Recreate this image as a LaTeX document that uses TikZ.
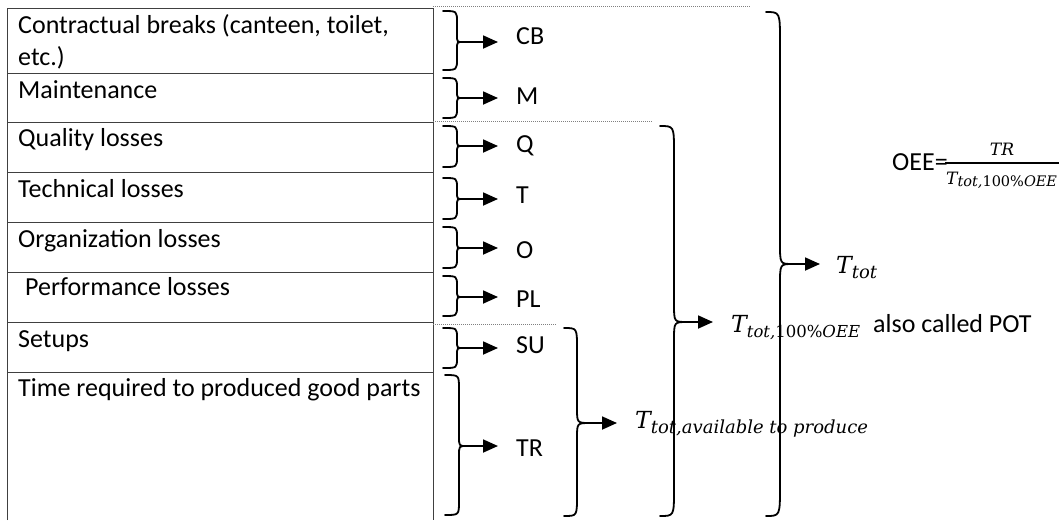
\documentclass[tikz,border=0pt]{standalone}
\usepackage{fontspec}
\setmainfont{Carlito}
\newfontfamily\mfont{DejaVu Serif}
\usetikzlibrary{arrows.meta}
% right brace: xend xspine xtip ytop ymid ybot cEnd cMid tipname
\newcommand\rbrc[9]{%
  \draw[brc] (#1,#4) .. controls (#2,#4) .. (#2,{#4+#7}) -- (#2,{#5-#8})
    .. controls (#2,#5) .. (#3,#5) .. controls (#2,#5) .. (#2,{#5+#8})
    -- (#2,{#6-#7}) .. controls (#2,#6) .. (#1,#6);
  \coordinate (#9) at (#3,#5);}
\newcommand\Tlab[2][18]{{\fontsize{23.5}{26}\selectfont\mfont\itshape T}\raisebox{-5pt}{\fontsize{#1}{20}\selectfont\mfont #2}}
\begin{document}
\begin{tikzpicture}[x=1pt,y=-1pt,
  tbl/.style={draw=black!75,line width=1pt},
  dots/.style={draw=black!50,line width=1pt,dash pattern=on 1pt off 1pt},
  brc/.style={draw=black,line width=1.8pt,line cap=round},
  arr/.style={draw=black,line width=1.8pt,-{Triangle[length=15pt,width=13pt]},shorten >=18pt},
  txt/.style={anchor=base west,inner sep=0pt,font=\fontsize{26}{30}\selectfont},
  lbl/.style={anchor=base west,inner xsep=0pt,inner ysep=0pt,font=\fontsize{26}{30}\selectfont},
  mlbl/.style={anchor=base west,inner xsep=0pt,inner ysep=0pt}]
\useasboundingbox (0,0) rectangle (1059,520);
% table
\draw[tbl] (7,520) -- (7,8) -- (433,8) -- (433,520);
\foreach \yy in {73,122,172,222,272,322,372} \draw[tbl] (7,\yy) -- (433,\yy);
\node[txt] (r1a) at (18,33) {Contractual breaks (canteen, toilet,};
\node[txt] (r1b) at (18,65) {etc.)};
\node[txt] (r2) at (18,98) {Maintenance};
\node[txt] (r3) at (18,146) {Quality losses};
\node[txt] (r4) at (18,197) {Technical losses};
\node[txt] (r5) at (18,247) {Organization losses};
\node[txt] (r6) at (25,295) {Performance losses};
\node[txt] (r7) at (18,347) {Setups};
\node[txt] (r8) at (18,396) {Time required to produced good parts};
% dotted separators
\draw[dots] (433,6) -- (750,6);
\draw[dots] (433,121) -- (652,121);
\draw[dots] (433,324) -- (557,324);
% small braces
\rbrc{443}{457}{463}{11}{42}{70}{11}{7}{tCB}
\rbrc{443}{457}{463}{78}{98}{118}{10}{7}{tM}
\rbrc{443}{457}{463}{126}{146}{167}{10}{7}{tQ}
\rbrc{443}{457}{463}{178}{199}{219}{10}{7}{tT}
\rbrc{443}{457}{463}{227}{248}{268}{10}{7}{tO}
\rbrc{443}{457}{463}{276}{297}{316}{10}{7}{tPL}
\rbrc{443}{457}{463}{328}{348}{368}{10}{7}{tSU}
\rbrc{445}{459}{466}{375}{446}{515}{14}{10}{tTR}
% big braces
\rbrc{564}{577}{590}{328}{423}{516}{20}{15}{tAv}
\rbrc{660}{674}{687}{126}{322}{516}{26}{18}{t100}
\rbrc{766}{780}{793}{12}{264}{516}{30}{20}{tTot}
% labels
\node[lbl] (lCB) at (516,44) {CB};
\node[lbl] (lM) at (516,104) {M};
\node[lbl] (lQ) at (516,152) {Q};
\node[lbl] (lT) at (516,203) {T};
\node[lbl] (lO) at (516,258) {O};
\node[lbl] (lPL) at (516,307) {PL};
\node[lbl] (lSU) at (516,353) {SU};
\node[lbl] (lTR) at (516,456) {TR};
\node[mlbl] (lAv) at (635,428) {\Tlab{\itshape tot,available to produce}};
\node[mlbl] (l100) at (731,332) {\Tlab[16.5]{\itshape tot,\upshape 100\%\itshape OEE}};
\node[lbl] (lPOT) at (873,332) {also called POT};
\node[mlbl] (lTot) at (836,273) {\Tlab{\itshape tot}};
% arrows
\foreach \t/\l in {tCB/lCB,tM/lM,tQ/lQ,tT/lT,tO/lO,tPL/lPL,tSU/lSU,tTR/lTR,tAv/lAv}
  \draw[arr] (\t) -- (\t -| \l.west);
\draw[arr,shorten >=18pt] (t100) -- (t100 -| l100.west);
\draw[arr,shorten >=16pt] (tTot) -- (tTot -| lTot.west);
% OEE formula
\node[txt] (oee) at (892,170) {OEE=};
\draw[line width=1.5pt] (945,163) -- (1059,163);
\node[anchor=base,inner sep=0pt] (num) at (1002,155) {\fontsize{17}{18}\selectfont\mfont\itshape TR};
\node[mlbl] (den) at (946,184) {{\fontsize{17}{18}\selectfont\mfont\itshape T}\raisebox{-2pt}{\fontsize{14.5}{16}\selectfont\mfont\itshape tot,\upshape 100\%\itshape OEE}};
\end{tikzpicture}
\end{document}
